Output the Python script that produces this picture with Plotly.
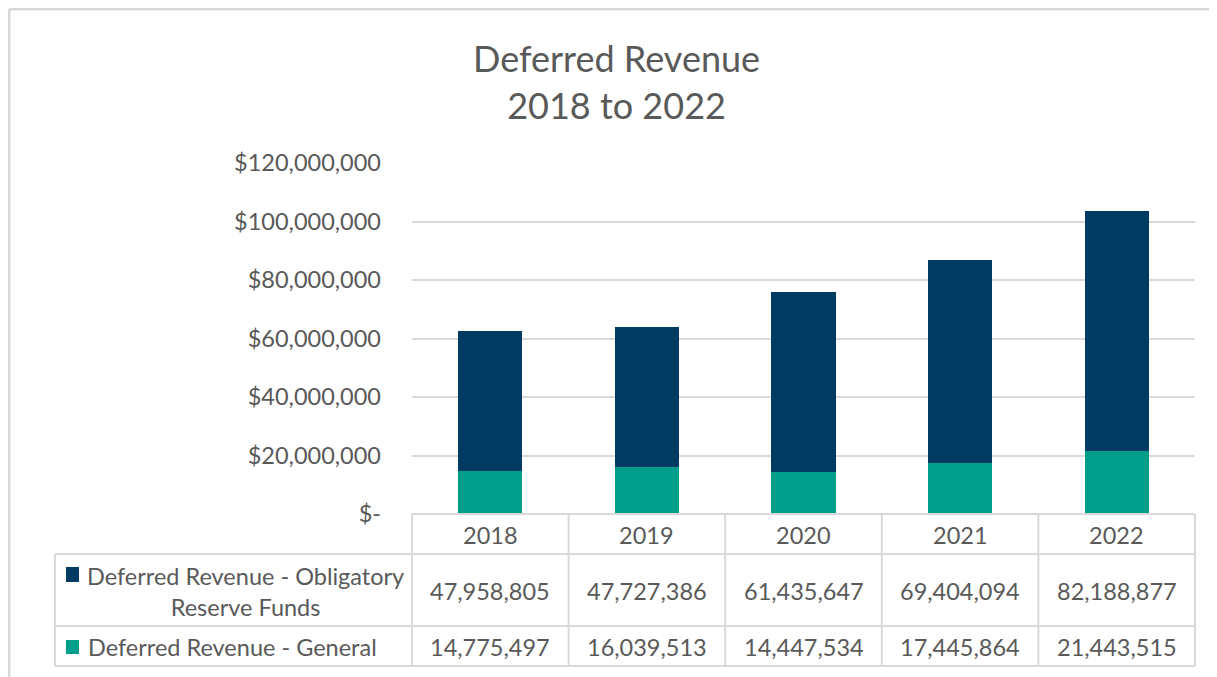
import plotly.graph_objects as go

# ---- data ----
years = ["2018", "2019", "2020", "2021", "2022"]
obligatory = [47958805, 47727386, 61435647, 69404094, 82188877]
general = [14775497, 16039513, 14447534, 17445864, 21443515]
series_names = ["Deferred Revenue - Obligatory<br>Reserve Funds", "Deferred Revenue - General"]
tick_vals = [0, 20000000, 40000000, 60000000, 80000000, 100000000, 120000000]
tick_text = ["$-", "$20,000,000", "$40,000,000", "$60,000,000", "$80,000,000",
             "$100,000,000", "$120,000,000"]
title_text = "Deferred Revenue<br>2018 to 2022"

# ---- style ----
NAVY = "#003B64"
TEAL = "#009E8B"
TXT = "#595959"
GRID = "#d9d9d9"
FONT = "Lato"
FS = 23.5

OFF = 8  # page body margin
W, H = 1217 - OFF, 677 - OFF
L, R, T, B = 412, 1195, 163, 514  # plot area in page pixels
pw, ph = R - L, B - T


def px(X):
    return (X - L) / pw


def py(Y):
    return (B - Y) / ph


fig = go.Figure()
fig.add_trace(go.Bar(x=years, y=general, name=series_names[1], marker_color=TEAL,
                     marker_line_width=0))
fig.add_trace(go.Bar(x=years, y=obligatory, name=series_names[0], marker_color=NAVY,
                     marker_line_width=0))

shapes = []


def line(x0, y0, x1, y1, w=2):
    shapes.append(dict(type="line", xref="paper", yref="paper", x0=x0, y0=y0, x1=x1, y1=y1,
                       line=dict(color=GRID, width=w), layer="above"))


# outer frame (top and left visible)
line(px(9), py(9), px(1217), py(9), 3)
line(px(9), py(9), px(9), py(677), 3)

# table grid
y_head = py(554)
y_r1 = py(626)
y_r2 = py(666)
x_left = px(55)
n = len(years)
for i in range(n + 1):
    line(i / n, 0, i / n, y_r2)
line(0, 0, 1, 0)
for yy in (y_head, y_r1, y_r2):
    line(x_left, yy, 1, yy)
line(x_left, y_head, x_left, y_r2)

# legend keys
shapes.append(dict(type="rect", xref="paper", yref="paper", x0=px(66), x1=px(79),
                   y0=py(567), y1=py(582), fillcolor=NAVY, line=dict(width=0)))
shapes.append(dict(type="rect", xref="paper", yref="paper", x0=px(66), x1=px(79),
                   y0=py(640), y1=py(654), fillcolor=TEAL, line=dict(width=0)))

annotations = []
# title
annotations.append(dict(text=title_text, xref="paper", yref="paper", x=px(616), y=py(81),
                        xanchor="center", yanchor="middle", showarrow=False,
                        font=dict(family=FONT, size=36, color=TXT)))
# header + cells
for i, yr in enumerate(years):
    xc = (i + 0.5) / n
    for txt, yy in ((yr, 535), (f"{obligatory[i]:,}", 591), (f"{general[i]:,}", 647)):
        annotations.append(dict(text=txt, xref="paper", yref="paper", x=xc, y=py(yy),
                                showarrow=False, xanchor="center", yanchor="middle",
                                font=dict(family=FONT, size=FS, color=TXT)))
# row labels
annotations.append(dict(text=series_names[0], xref="paper", yref="paper", x=px(245),
                        y=py(591), showarrow=False, xanchor="center", yanchor="middle",
                        align="center", font=dict(family=FONT, size=FS, color=TXT)))
annotations.append(dict(text=series_names[1], xref="paper", yref="paper", x=px(86),
                        y=py(647), showarrow=False, xanchor="left", yanchor="middle",
                        align="left", font=dict(family=FONT, size=FS, color=TXT)))

fig.update_layout(
    width=W, height=H,
    margin=dict(l=L - OFF, r=W - (R - OFF), t=T - OFF, b=H - (B - OFF), pad=0),
    barmode="stack", bargap=0.59,
    showlegend=False,
    paper_bgcolor="white", plot_bgcolor="white",
    font=dict(family=FONT, color=TXT),
    shapes=shapes, annotations=annotations,
    xaxis=dict(type="category", range=[-0.5, n - 0.5], showticklabels=False,
               showgrid=False, zeroline=False, showline=False, fixedrange=True),
    yaxis=dict(range=[0, 120000000], tickvals=tick_vals, ticktext=tick_text,
               showgrid=True, gridcolor=GRID, gridwidth=2, zeroline=False,
               showline=False, ticks="", ticklabelstandoff=30,
               tickfont=dict(family=FONT, size=FS, color=TXT), fixedrange=True),
)

fig.write_html("out.html")
